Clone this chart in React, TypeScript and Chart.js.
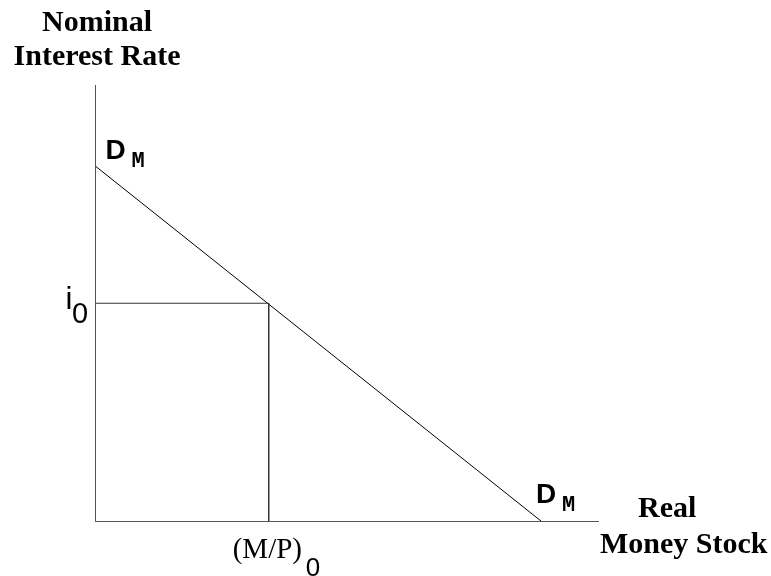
import React, { useEffect, useRef } from "react";
import { Chart, registerables } from "chart.js";

Chart.register(...registerables);

// Data (arbitrary units: both axes run 0..100)
const axisMaxX = 100;
const axisMaxY = 100;
const demandX = [0, 88.6];
const demandY = [81.4, 0];
const i0Value = 50;
const mp0Value = 34.4;

const yTitle = ["Nominal", "Interest Rate"];
const xTitle = ["Real", "Money Stock"];
const demandLabel = ["D", "M"];
const rateLabel = ["i", "0"];
const qtyLabel = ["(M/P)", "0"];

const labelPlugin = {
  id: "econLabels",
  afterDraw(chart: any) {
    const { ctx, chartArea, scales } = chart;
    const xs = scales.x;
    const ys = scales.y;
    ctx.save();
    ctx.fillStyle = "#000";
    ctx.textBaseline = "alphabetic";

    // Y axis title
    const yAxisX = xs.getPixelForValue(0);
    ctx.font = 'bold 30px "Liberation Serif"';
    ctx.textAlign = "center";
    ctx.fillText(yTitle[0], yAxisX + 1.5, chartArea.top - 54);
    ctx.fillText(yTitle[1], yAxisX + 1.5, chartArea.top - 20);

    // X axis title
    ctx.textAlign = "left";
    const xEnd = xs.getPixelForValue(axisMaxX);
    const xAxisY = ys.getPixelForValue(0);
    ctx.fillText(xTitle[0], xEnd + 39, xAxisY - 4.5);
    ctx.fillText(xTitle[1], xEnd + 1, xAxisY + 31.5);

    // D_M labels
    const drawDM = (px: number, py: number) => {
      ctx.font = 'bold 28px "Liberation Sans"';
      ctx.fillText(demandLabel[0], px, py);
      ctx.font = 'bold 22px "Liberation Mono"';
      ctx.fillText(demandLabel[1], px + 26, py + 8);
    };
    const ds = { x: xs.getPixelForValue(demandX[0]), y: ys.getPixelForValue(demandY[0]) };
    const de = { x: xs.getPixelForValue(demandX[1]), y: ys.getPixelForValue(demandY[1]) };
    drawDM(ds.x + 10, ds.y - 7);
    drawDM(de.x - 5.5, de.y - 18.5);

    // i0
    const iy = ys.getPixelForValue(i0Value);
    ctx.font = '31px "Liberation Sans"';
    ctx.fillText(rateLabel[0], yAxisX - 30, iy + 5.5);
    ctx.font = '29px "Liberation Sans"';
    ctx.fillText(rateLabel[1], yAxisX - 23.5, iy + 19.5);

    // (M/P)0
    const mx = xs.getPixelForValue(mp0Value);
    ctx.font = '29px "Liberation Serif"';
    ctx.fillText(qtyLabel[0], mx - 36, xAxisY + 36);
    ctx.font = '26px "Liberation Sans"';
    ctx.fillText(qtyLabel[1], mx + 37, xAxisY + 54);

    ctx.restore();
  },
};

export default function App() {
  const canvasRef = useRef<HTMLCanvasElement | null>(null);

  useEffect(() => {
    if (!canvasRef.current) return;
    const lineStyle = {
      showLine: true,
      pointRadius: 0,
      borderWidth: 1,
      fill: false,
      tension: 0,
      clip: false as any,
    };
    const chart = new Chart(canvasRef.current, {
      type: "scatter",
      data: {
        datasets: [
          {
            ...lineStyle,
            label: "axes",
            borderColor: "#555",
            data: [
              { x: 0, y: axisMaxY },
              { x: 0, y: 0 },
              { x: axisMaxX, y: 0 },
            ],
          },
          {
            ...lineStyle,
            label: "i0",
            borderColor: "#333",
            data: [
              { x: 0, y: i0Value },
              { x: mp0Value, y: i0Value },
              { x: mp0Value, y: 0 },
            ],
          },
          {
            ...lineStyle,
            label: "demand",
            borderColor: "#000",
            data: demandX.map((x, i) => ({ x, y: demandY[i] })),
          },
        ],
      },
      options: {
        animation: false,
        responsive: false,
        devicePixelRatio: 1,
        layout: { padding: { left: 95.5, top: 85, right: 172, bottom: 54.5 } },
        plugins: { legend: { display: false }, tooltip: { enabled: false } },
        scales: {
          x: { type: "linear", min: 0, max: axisMaxX, display: false },
          y: { type: "linear", min: 0, max: axisMaxY, display: false },
        },
      },
      plugins: [labelPlugin],
    });
    return () => chart.destroy();
  }, []);

  return (
    <div style={{ position: "fixed", left: 0, top: 0, width: 771, height: 576, background: "#fff" }}>
      <canvas ref={canvasRef} width={771} height={576} />
    </div>
  );
}
